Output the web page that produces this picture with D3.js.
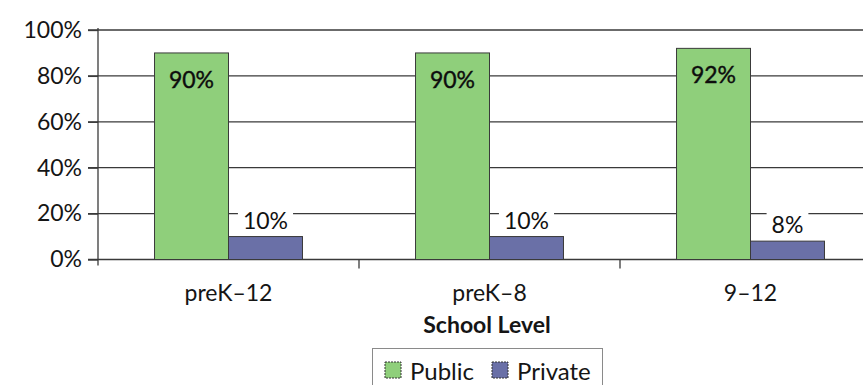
<!DOCTYPE html>
<html>
<head>
<meta charset="utf-8">
<script src="https://cdn.jsdelivr.net/npm/d3@7"></script>
<style>
  body { margin: 0; background: #fff; }
  svg { display: block; font-family: Lato, "Open Sans", sans-serif; }
</style>
</head>
<body>
<svg id="chart" width="863" height="385"></svg>
<script>

// Chart data
const categories = ['preK\u201312', 'preK\u20138', '9\u201312'];
const seriesNames = ['Public', 'Private'];
const publicValues = [90, 90, 92];
const privateValues = [10, 10, 8];
const yTicks = [0, 20, 40, 60, 80, 100];

const colors = {Public: '#8fcf7b', Private: '#6a70a7'};

const svg = d3.select('#chart');

// Scales (plot runs past the right edge, as in the scan)
const x0 = d3.scaleBand().domain(categories).range([98, 881]);
const x1 = d3.scaleBand().domain(seriesNames).range([0, x0.bandwidth()]).paddingOuter(0.764);
const y = d3.scaleLinear().domain([0, 100]).range([259.5, 30]);

// Gridlines
svg.append('g')
    .selectAll('line')
    .data(yTicks)
    .join('line')
    .attr('x1', 88)
    .attr('x2', 863)
    .attr('y1', d => y(d))
    .attr('y2', d => y(d))
    .attr('stroke', '#3a3a3a')
    .attr('stroke-width', 1.3);

// Y axis
const yAxis = svg.append('g')
    .attr('transform', 'translate(98,0)')
    .call(d3.axisLeft(y).tickValues(yTicks).tickFormat(d => d + '%').tickSize(10).tickPadding(6));
yAxis.select('.domain').attr('d', `M0,${y(100) - 2}V${y(0) + 6}`).attr('stroke', '#3a3a3a').attr('stroke-width', 1.3);
yAxis.selectAll('.tick line').attr('stroke', '#3a3a3a').attr('stroke-width', 1.3);
yAxis.selectAll('.tick text')
    .attr('font-size', 23)
    .attr('fill', '#151515')
    .attr('font-family', 'Lato, sans-serif');

// X axis ticks at category boundaries
svg.append('g')
    .selectAll('line')
    .data(categories.slice(1))
    .join('line')
    .attr('x1', d => x0(d))
    .attr('x2', d => x0(d))
    .attr('y1', y(0))
    .attr('y2', y(0) + 9)
    .attr('stroke', '#3a3a3a')
    .attr('stroke-width', 1.3);

// Category labels
svg.append('g')
    .selectAll('text')
    .data(categories)
    .join('text')
    .attr('x', d => x0(d) + x0.bandwidth() / 2)
    .attr('y', 301)
    .attr('text-anchor', 'middle')
    .attr('font-size', 23)
    .attr('fill', '#151515')
    .text(d => d);

// Axis title
svg.append('text')
    .attr('x', 487)
    .attr('y', 333)
    .attr('text-anchor', 'middle')
    .attr('font-size', 23)
    .attr('font-weight', 'bold')
    .attr('fill', '#151515')
    .text('School Level');

// Bars
const rows = categories.map((c, i) => ({
    category: c,
    values: [
        {series: 'Public', value: publicValues[i]},
        {series: 'Private', value: privateValues[i]}
    ]
}));

const groups = svg.append('g')
    .selectAll('g')
    .data(rows)
    .join('g')
    .attr('transform', d => `translate(${x0(d.category)},0)`);

groups.selectAll('rect')
    .data(d => d.values)
    .join('rect')
    .attr('x', d => x1(d.series))
    .attr('y', d => y(d.value))
    .attr('width', x1.bandwidth())
    .attr('height', d => y(0) - y(d.value))
    .attr('fill', d => colors[d.series])
    .attr('stroke', '#3a3a3a')
    .attr('stroke-width', 1);

// Public labels inside the bar top
groups.append('text')
    .attr('x', x1('Public') + x1.bandwidth() / 2)
    .attr('y', d => y(d.values[0].value) + 35)
    .attr('text-anchor', 'middle')
    .attr('font-size', 23)
    .attr('fill', '#0d0d0d')
    .attr('stroke', '#0d0d0d')
    .attr('stroke-width', 0.4)
    .text(d => d.values[0].value + '%');

// Private labels above the bar, on a white box hiding the gridline
const privLabels = groups.append('g')
    .attr('transform', d => `translate(${x1('Private') + x1.bandwidth() / 2},${y(d.values[1].value) - 8})`);
privLabels.append('text')
    .attr('text-anchor', 'middle')
    .attr('font-size', 23)
    .attr('fill', '#111')
    .text(d => d.values[1].value + '%');
privLabels.insert('rect', 'text')
    .each(function() {
        const bb = this.parentNode.querySelector('text').getBBox();
        d3.select(this)
            .attr('x', bb.x - 5)
            .attr('y', bb.y)
            .attr('width', bb.width + 10)
            .attr('height', bb.height - 2);
    })
    .attr('fill', '#fff');

// Legend
const legend = svg.append('g');
legend.append('rect')
    .attr('x', 372.5)
    .attr('y', 348.5)
    .attr('width', 230)
    .attr('height', 50)
    .attr('fill', '#fff')
    .attr('stroke', '#8a8a8a')
    .attr('stroke-width', 1);

const legendX = [385, 492];
const items = legend.selectAll('g.item')
    .data(seriesNames)
    .join('g')
    .attr('class', 'item')
    .attr('transform', (d, i) => `translate(${legendX[i]},362)`);
items.append('rect')
    .attr('width', 16)
    .attr('height', 16)
    .attr('fill', d => colors[d])
    .attr('stroke', '#333')
    .attr('stroke-width', 1)
    .attr('stroke-dasharray', '2,1');
items.append('text')
    .attr('x', 25)
    .attr('y', 18)
    .attr('font-size', 24)
    .attr('fill', '#151515')
    .text(d => d);

</script>
</body>
</html>
